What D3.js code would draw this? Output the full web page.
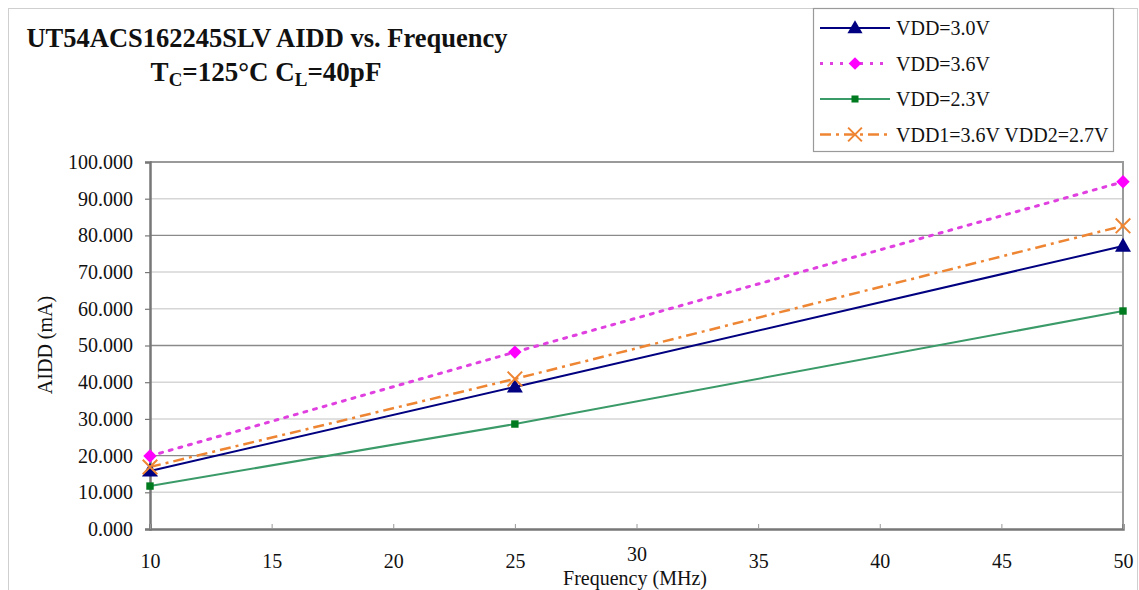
<!DOCTYPE html>
<html><head><meta charset="utf-8">
<script src="https://cdn.jsdelivr.net/npm/d3@7"></script>
<style>
body{margin:0;background:#fff;}
svg{display:block;font-family:"Liberation Serif","Times New Roman",serif;}
</style></head>
<body><svg id="c" width="1139" height="590"></svg>
<script>
const frequencies = [10, 25, 50];
const vdd30 = [15.8, 38.7, 77.1];
const vdd36 = [19.9, 48.2, 94.6];
const vdd23 = [11.7, 28.6, 59.4];
const vddMix = [16.9, 40.9, 82.6];
const seriesNames = ["VDD=3.0V", "VDD=3.6V", "VDD=2.3V", "VDD1=3.6V VDD2=2.7V"];
const yTicks = [0,10,20,30,40,50,60,70,80,90,100];
const xTicks = [10,15,20,25,30,35,40,45,50];
const darkGrid = [20,50,80];

const series = [
  {name: seriesNames[0], values: vdd30, color:"#000080", mcolor:"#000080", dash:null, w:2, marker:"triangle"},
  {name: seriesNames[1], values: vdd36, color:"#E040E0", mcolor:"#FF00FF", dash:"3,7", w:3, marker:"diamond"},
  {name: seriesNames[2], values: vdd23, color:"#3A9A68", mcolor:"#007A1E", dash:null, w:2, marker:"square"},
  {name: seriesNames[3], values: vddMix, color:"#EE8533", mcolor:"#EE8533", dash:"11,5,3,5", w:2.5, marker:"x"}
];

const svg = d3.select("#c");
const L=150, R=1123, T=162, B=529;
const x = d3.scaleLinear().domain([10,50]).range([L,R]);
const y = d3.scaleLinear().domain([0,100]).range([B,T]);

// outer border
svg.append("rect").attr("x",8.5).attr("y",8.5).attr("width",1129).attr("height",585)
  .attr("fill","none").attr("stroke","#cfcfcf").attr("stroke-width",1);

// gridlines
svg.append("g").selectAll("line").data(yTicks.filter(d=>d>0 && d<100)).join("line")
  .attr("x1",L).attr("x2",R).attr("y1",d=>y(d)).attr("y2",d=>y(d))
  .attr("stroke",d=>darkGrid.includes(d)?"#8a8a8a":"#d6d6d6")
  .attr("stroke-width",d=>darkGrid.includes(d)?1.3:1.5);

// plot border top/right
svg.append("path").attr("d",`M${L},${T}H${R}V${B}`).attr("fill","none")
  .attr("stroke","#9a9a9a").attr("stroke-width",2);

// y axis
const yAxis = svg.append("g").attr("transform",`translate(${L},0)`)
  .call(d3.axisLeft(y).tickValues(yTicks).tickFormat(d3.format(".3f")).tickSize(5).tickPadding(10));
yAxis.select(".domain").attr("stroke","#777").attr("stroke-width",2.5);
yAxis.selectAll(".tick line").attr("stroke","#777").attr("stroke-width",1.2);
yAxis.selectAll("text").attr("font-size",20).attr("fill","#111")
  .attr("font-family","Liberation Serif, serif").attr("dx",-2);

// x axis
const xAxis = svg.append("g").attr("transform",`translate(0,${B})`)
  .call(d3.axisBottom(x).tickValues(xTicks).tickSize(-5).tickPadding(25));
xAxis.select(".domain").attr("stroke","#777").attr("stroke-width",2.5);
xAxis.selectAll(".tick line").attr("stroke","#999").attr("stroke-width",1);
xAxis.selectAll("text").attr("font-size",20).attr("fill","#111")
  .attr("font-family","Liberation Serif, serif")
  .attr("y",d=>d===30?18:25);

// axis titles
svg.append("text").attr("x",635).attr("y",585).attr("text-anchor","middle")
  .attr("font-size",20).attr("fill","#111").text("Frequency (MHz)");
svg.append("text").attr("transform","translate(52,345) rotate(-90)").attr("text-anchor","middle")
  .attr("font-size",20).attr("fill","#111").text("AIDD (mA)");

// title
svg.append("text").attr("x",267).attr("y",47).attr("text-anchor","middle")
  .attr("font-size",26.5).attr("font-weight","bold").attr("fill","#111")
  .text("UT54ACS162245SLV AIDD vs. Frequency");
const sub = svg.append("text").attr("x",266).attr("y",81).attr("text-anchor","middle")
  .attr("font-size",27).attr("font-weight","bold").attr("fill","#111");
sub.append("tspan").text("T");
sub.append("tspan").attr("font-size",19).attr("dy",5).text("C");
sub.append("tspan").attr("dy",-5).text("=125°C C");
sub.append("tspan").attr("font-size",19).attr("dy",5).text("L");
sub.append("tspan").attr("dy",-5).text("=40pF");

function drawMarker(g, type, cx, cy, color, scale){
  const s = scale||1;
  if(type==="triangle"){
    g.append("path").attr("d",d3.symbol().type(d3.symbolTriangle).size(110*s)())
      .attr("transform",`translate(${cx},${cy+1})`).attr("fill",color);
  } else if(type==="diamond"){
    g.append("path").attr("d",d3.symbol().type(d3.symbolSquare).size(90*s)())
      .attr("transform",`translate(${cx},${cy}) rotate(45)`).attr("fill",color);
  } else if(type==="square"){
    g.append("path").attr("d",d3.symbol().type(d3.symbolSquare).size(55*s)())
      .attr("transform",`translate(${cx},${cy})`).attr("fill",color);
  } else if(type==="x"){
    g.append("path").attr("d",d3.symbol().type(d3.symbolX).size(140*s)())
      .attr("transform",`translate(${cx},${cy})`).attr("fill","none")
      .attr("stroke",color).attr("stroke-width",2);
  }
}

const line = d3.line().x((d,i)=>x(frequencies[i])).y(d=>y(d));
const order = [2,0,3,1];
order.forEach(k=>{
  const s = series[k];
  const p = svg.append("path").datum(s.values).attr("d",line).attr("fill","none")
    .attr("stroke",s.color).attr("stroke-width",s.w).attr("stroke-linecap",s.dash&&k===1?"round":"butt");
  if(s.dash) p.attr("stroke-dasharray",s.dash);
});
order.forEach(k=>{
  const s = series[k];
  const g = svg.append("g");
  s.values.forEach((v,i)=>drawMarker(g,s.marker,x(frequencies[i]),y(v),s.mcolor));
});

// legend
const lg = svg.append("g");
lg.append("rect").attr("x",813.5).attr("y",8.5).attr("width",300).attr("height",143)
  .attr("fill","#fff").attr("stroke","#9a9a9a").attr("stroke-width",1.2);
series.forEach((s,i)=>{
  const yy = 28 + i*35.5;
  const l = lg.append("line").attr("x1",820).attr("x2",890).attr("y1",yy).attr("y2",yy)
    .attr("stroke",s.color).attr("stroke-width",s.w);
  if(s.dash) l.attr("stroke-dasharray",s.dash);
  drawMarker(lg,s.marker,855,yy,s.mcolor,0.9);
  lg.append("text").attr("x",896).attr("y",yy+7).attr("font-size",20).attr("fill","#111").text(s.name);
});
</script></body></html>
